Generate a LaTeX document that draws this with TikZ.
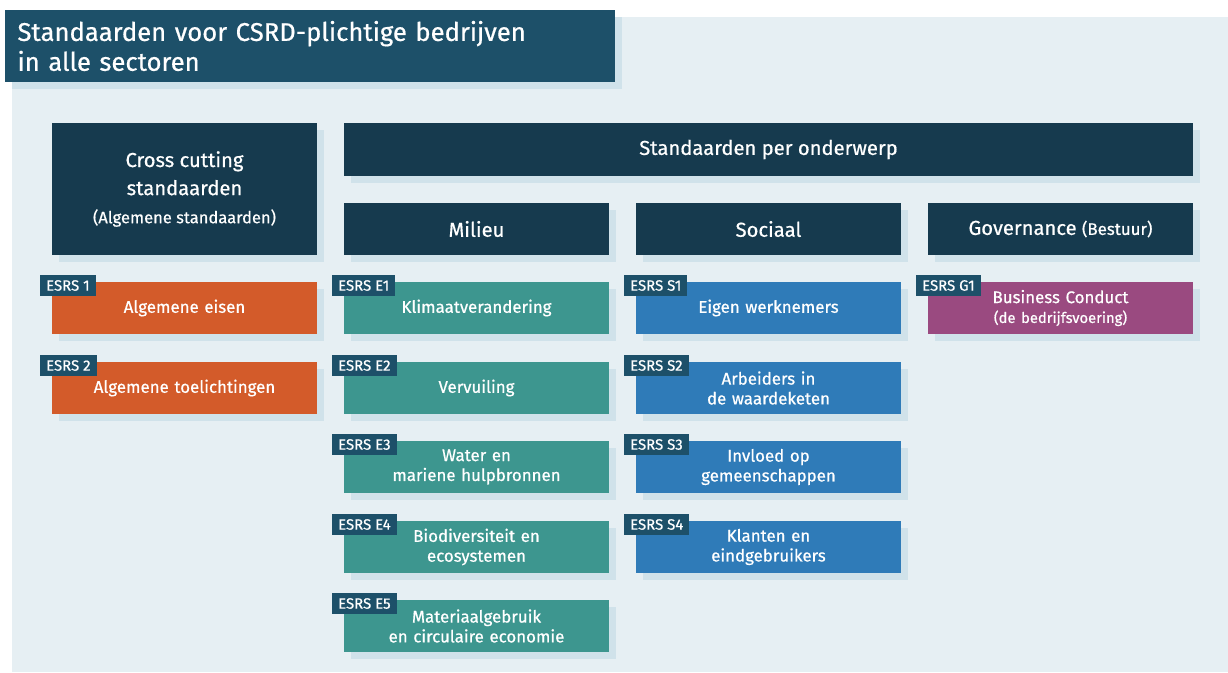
\documentclass[tikz,border=0pt]{standalone}
\usepackage{fontspec}
\setmainfont{Fira Sans}[RawFeature={embolden=0.6}]
\usetikzlibrary{shadows}

\definecolor{panelbg}{HTML}{E6EFF3}
\definecolor{shade}{HTML}{D0E2EA}
\definecolor{titleblue}{HTML}{1D5069}
\definecolor{navy}{HTML}{163A4E}
\definecolor{esrsorange}{HTML}{D35B2A}
\definecolor{esrsteal}{HTML}{3D968F}
\definecolor{esrsblue}{HTML}{2F7BB8}
\definecolor{esrspurple}{HTML}{9A4A80}

\begin{document}
\begin{tikzpicture}[
  boxshadow/.style={general shadow={fill=shade, shadow xshift=0.13cm, shadow yshift=-0.13cm}},
  header/.style={rectangle, fill=navy, text=white, boxshadow, minimum width=5.3cm,
                 minimum height=1.04cm, align=center, inner sep=2pt,
                 font=\fontsize{11.5}{16}\selectfont},
  topic/.style={rectangle, boxshadow, text=white, minimum width=5.3cm, minimum height=1.04cm,
                text width=5cm, align=center, inner sep=2pt, font=\fontsize{9.6}{11.3}\selectfont},
  tag/.style={rectangle, fill=titleblue, text=white, anchor=north west, xshift=-0.24cm,
              yshift=0.14cm, minimum height=0.42cm, inner xsep=3.5pt, inner ysep=1pt,
              font=\fontsize{8.5}{9}\selectfont}
]
\useasboundingbox (0,0) rectangle (24.56,-13.44);

% Background panel
\fill[panelbg] (0.24,-0.34) rectangle (24.56,-13.44);

% Title
\node[rectangle, fill=titleblue, text=white, boxshadow, minimum width=12.2cm, minimum height=1.44cm,
      text width=11.7cm, align=left, font=\fontsize{14.6}{17}\selectfont] (title) at (6.2,-0.92)
  {Standaarden voor CSRD-plichtige bedrijven\\in alle sectoren};

% Headers
\node[header, minimum height=2.64cm] (cross) at (3.69,-3.78)
  {Cross cutting\\standaarden\\{\fontsize{9.4}{12}\selectfont (Algemene standaarden)}};
\node[header, minimum width=16.98cm, minimum height=1.06cm] (perond) at (15.37,-2.99)
  {Standaarden per onderwerp};
\node[header] (milieu) at (9.53,-4.58) {Milieu};
\node[header] (sociaal) at (15.37,-4.58) {Sociaal};
\node[header] (gov) at (21.21,-4.58) {Governance {\fontsize{9.6}{12}\selectfont (Bestuur)}};

% Cross cutting
\node[topic, fill=esrsorange] (esrs1) at (3.69,-6.16) {Algemene eisen};
\node[topic, fill=esrsorange] (esrs2) at (3.69,-7.76) {Algemene toelichtingen};
\node[tag] at (esrs1.north west) {ESRS 1};
\node[tag] at (esrs2.north west) {ESRS 2};

% Milieu
\node[topic, fill=esrsteal] (e1) at (9.53,-6.16) {Klimaatverandering};
\node[topic, fill=esrsteal] (e2) at (9.53,-7.76) {Vervuiling};
\node[topic, fill=esrsteal] (e3) at (9.53,-9.34) {Water en\\mariene hulpbronnen};
\node[topic, fill=esrsteal] (e4) at (9.53,-10.94) {Biodiversiteit en\\ecosystemen};
\node[topic, fill=esrsteal] (e5) at (9.53,-12.52) {Materiaalgebruik\\en circulaire economie};
\node[tag] at (e1.north west) {ESRS E1};
\node[tag] at (e2.north west) {ESRS E2};
\node[tag] at (e3.north west) {ESRS E3};
\node[tag] at (e4.north west) {ESRS E4};
\node[tag] at (e5.north west) {ESRS E5};

% Sociaal
\node[topic, fill=esrsblue] (s1) at (15.37,-6.16) {Eigen werknemers};
\node[topic, fill=esrsblue] (s2) at (15.37,-7.76) {Arbeiders in\\de waardeketen};
\node[topic, fill=esrsblue] (s3) at (15.37,-9.34) {Invloed op\\gemeenschappen};
\node[topic, fill=esrsblue] (s4) at (15.37,-10.94) {Klanten en\\eindgebruikers};
\node[tag] at (s1.north west) {ESRS S1};
\node[tag] at (s2.north west) {ESRS S2};
\node[tag] at (s3.north west) {ESRS S3};
\node[tag] at (s4.north west) {ESRS S4};

% Governance
\node[topic, fill=esrspurple] (g1) at (21.21,-6.16)
  {Business Conduct\\{\fontsize{8.4}{11}\selectfont (de bedrijfsvoering)}};
\node[tag] at (g1.north west) {ESRS G1};

\end{tikzpicture}
\end{document}
